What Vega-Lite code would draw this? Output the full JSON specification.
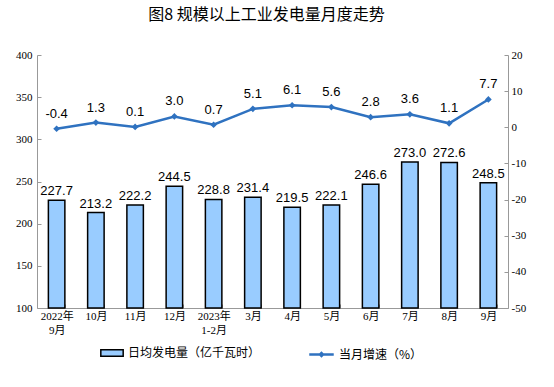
{
  "$schema": "https://vega.github.io/schema/vega-lite/v6.json",
  "width": 471,
  "height": 253,
  "autosize": {"type": "none"},
  "padding": {"left": 37, "top": 55, "right": 46, "bottom": 79},
  "background": "white",
  "title": {
    "text": "图8  规模以上工业发电量月度走势",
    "font": "Noto Sans CJK SC",
    "fontSize": 16,
    "fontWeight": "normal",
    "color": "#000000",
    "offset": 26,
    "dx": -6,
    "anchor": "middle"
  },
  "data": {
    "values": [
      {"month": "2022年|9月", "gen": 227.7, "growth": -0.4},
      {"month": "10月", "gen": 213.2, "growth": 1.3},
      {"month": "11月", "gen": 222.2, "growth": 0.1},
      {"month": "12月", "gen": 244.5, "growth": 3.0},
      {"month": "2023年|1-2月", "gen": 228.8, "growth": 0.7},
      {"month": "3月", "gen": 231.4, "growth": 5.1},
      {"month": "4月", "gen": 219.5, "growth": 6.1},
      {"month": "5月", "gen": 222.1, "growth": 5.6},
      {"month": "6月", "gen": 246.6, "growth": 2.8},
      {"month": "7月", "gen": 273.0, "growth": 3.6},
      {"month": "8月", "gen": 272.6, "growth": 1.1},
      {"month": "9月", "gen": 248.5, "growth": 7.7}
    ]
  },
  "encoding": {
    "x": {
      "field": "month",
      "type": "nominal",
      "sort": null,
      "scale": {"paddingInner": 0.58, "paddingOuter": 0.29},
      "axis": {
        "title": null,
        "labelAngle": 0,
        "labelExpr": "split(datum.label, '|')",
        "labelFont": "Liberation Serif, Noto Sans CJK SC",
        "labelFontSize": 11,
        "labelColor": "#000000",
        "labelPadding": 6,
        "labelLineHeight": 14,
        "tickBand": "extent",
        "tickSize": -4,
        "tickColor": "#999999",
        "domainColor": "#999999",
        "grid": false
      }
    }
  },
  "layer": [
    {
      "encoding": {
        "y": {
          "field": "gen",
          "type": "quantitative",
          "scale": {"domain": [100, 400], "zero": false, "nice": false},
          "axis": {
            "title": null,
            "values": [100, 150, 200, 250, 300, 350, 400],
            "labelFont": "Liberation Serif",
            "labelFontSize": 11,
            "labelColor": "#000000",
            "labelPadding": 9,
            "tickSize": -4,
            "tickColor": "#999999",
            "domainColor": "#999999",
            "grid": false
          }
        }
      },
      "layer": [
        {
          "mark": {"type": "bar", "stroke": "#000000", "strokeWidth": 1.5},
          "encoding": {
            "y2": {"datum": 100},
            "fill": {
              "datum": "日均发电量（亿千瓦时）",
              "scale": {"range": ["#99CCFF"]},
              "legend": {
                "title": null,
                "orient": "none",
                "legendX": 63,
                "legendY": 286,
                "symbolType": "M-1,-0.28H1V0.28H-1Z",
                "symbolSize": 500,
                "symbolStrokeColor": "#000000",
                "symbolStrokeWidth": 1.5,
                "labelFont": "Noto Sans CJK SC",
                "labelFontSize": 12,
                "labelColor": "#000000",
                "labelOffset": 4
              }
            }
          }
        },
        {
          "mark": {"type": "text", "dy": -9, "font": "Liberation Sans", "fontSize": 13, "color": "#000000"},
          "encoding": {
            "text": {"field": "gen", "type": "quantitative", "format": ".1f"}
          }
        }
      ]
    },
    {
      "encoding": {
        "y": {
          "field": "growth",
          "type": "quantitative",
          "scale": {"domain": [-50, 20], "nice": false},
          "axis": {
            "orient": "right",
            "title": null,
            "values": [-50, -40, -30, -20, -10, 0, 10, 20],
            "labelExpr": "replace(datum.label, '−', '-')",
            "labelFont": "Liberation Serif",
            "labelFontSize": 11,
            "labelColor": "#000000",
            "labelPadding": 7,
            "labelOverlap": false,
            "labelFlush": false,
            "tickSize": -4,
            "tickColor": "#999999",
            "domainColor": "#999999",
            "grid": false
          }
        }
      },
      "layer": [
        {
          "mark": {"type": "line", "strokeWidth": 2.5},
          "encoding": {
            "stroke": {
              "datum": "当月增速（%）",
              "scale": {"range": ["#2F72C0"]},
              "legend": {
                "title": null,
                "orient": "none",
                "legendX": 271,
                "legendY": 286,
                "symbolType": "M-1,0H1M-0.12,0L0,-0.12L0.12,0L0,0.12Z",
                "symbolSize": 600,
                "symbolStrokeWidth": 2.5,
                "labelFont": "Noto Sans CJK SC",
                "labelFontSize": 12,
                "labelColor": "#000000",
                "labelOffset": 4
              }
            }
          }
        },
        {
          "mark": {"type": "point", "shape": "diamond", "filled": true, "size": 45, "color": "#2F72C0", "opacity": 1},
          "encoding": {}
        },
        {
          "transform": [{"calculate": "replace(format(datum.growth, '.1f'), '−', '-')", "as": "growthLabel"}],
          "mark": {"type": "text", "dy": -15, "font": "Liberation Sans", "fontSize": 13, "color": "#000000"},
          "encoding": {
            "text": {"field": "growthLabel", "type": "nominal"}
          }
        }
      ]
    }
  ],
  "resolve": {"scale": {"y": "independent"}},
  "config": {
    "view": {"stroke": null},
    "axis": {"domainWidth": 1, "labelOverlap": false}
  }
}
